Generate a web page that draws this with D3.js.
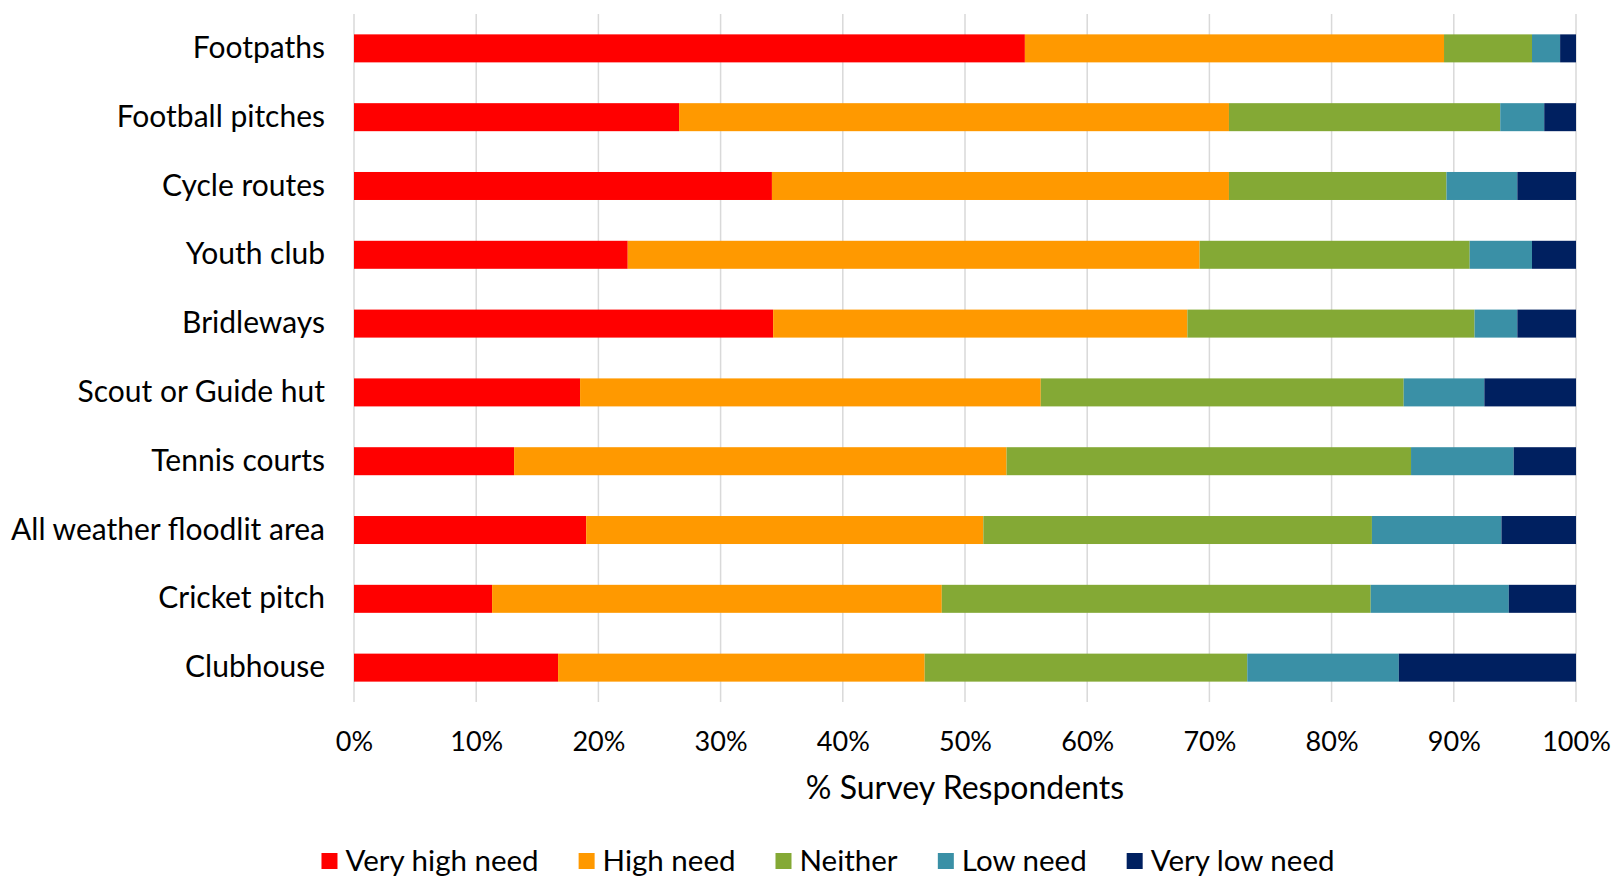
<!DOCTYPE html>
<html>
<head>
<meta charset="utf-8">
<script src="https://cdn.jsdelivr.net/npm/d3@7"></script>
<style>
  body { margin: 0; background: #fff; }
  text { font-family: Lato, "Open Sans", sans-serif; fill: #000; }
</style>
</head>
<body>
<div id="chart"></div>
<script>
// categories top to bottom
var categories = ["Footpaths", "Football pitches", "Cycle routes", "Youth club", "Bridleways",
    "Scout or Guide hut", "Tennis courts", "All weather floodlit area", "Cricket pitch", "Clubhouse"];

// series (percent of respondents)
var seriesNames = ["Very high need", "High need", "Neither", "Low need", "Very low need"];
var veryHigh = [54.9, 26.6, 34.2, 22.4, 34.3, 18.5, 13.1, 19.0, 11.3, 16.7];
var high     = [34.3, 45.0, 37.4, 46.8, 33.9, 37.7, 40.3, 32.5, 36.8, 30.0];
var neither  = [7.2, 22.2, 17.8, 22.1, 23.5, 29.7, 33.1, 31.8, 35.1, 26.4];
var low      = [2.3, 3.6, 5.8, 5.1, 3.5, 6.6, 8.4, 10.6, 11.3, 12.4];
var veryLow  = [1.3, 2.6, 4.8, 3.6, 4.8, 7.5, 5.1, 6.1, 5.5, 14.5];

var tickValues = [0, 10, 20, 30, 40, 50, 60, 70, 80, 90, 100];
var colors = ["#ff0000", "#ff9900", "#84a935", "#3a90a6", "#002060"];

var W = 1616, H = 879;
var margin = { top: 14, right: 40, bottom: 177, left: 354 };
var w = W - margin.left - margin.right,
    h = H - margin.top - margin.bottom;

var svg = d3.select("#chart").append("svg")
    .attr("width", W)
    .attr("height", H);

var g = svg.append("g")
    .attr("transform", "translate(" + margin.left + "," + margin.top + ")");

// build rows for the stack
var rows = categories.map(function (c, i) {
    return { cat: c, s0: veryHigh[i], s1: high[i], s2: neither[i], s3: low[i], s4: veryLow[i] };
});
var stack = d3.stack().keys(["s0", "s1", "s2", "s3", "s4"]);
var stacked = stack(rows);

var xScale = d3.scaleLinear().domain([0, 100]).range([0, w]);
var yScale = d3.scaleBand().domain(categories).range([0, h]).paddingInner(0.593).paddingOuter(0.296);

// gridlines
g.append("g")
    .selectAll("line")
    .data(tickValues).enter()
    .append("line")
    .attr("x1", function (d) { return xScale(d); })
    .attr("x2", function (d) { return xScale(d); })
    .attr("y1", 0)
    .attr("y2", h)
    .attr("stroke", "#d9d9d9")
    .attr("stroke-width", 1.5);

// bars
g.selectAll(".layer")
    .data(stacked).enter()
    .append("g")
    .attr("class", "layer")
    .attr("fill", function (d, i) { return colors[i]; })
    .selectAll("rect")
    .data(function (d) { return d; }).enter()
    .append("rect")
    .attr("x", function (d) { return xScale(d[0]); })
    .attr("width", function (d) { return xScale(d[1]) - xScale(d[0]); })
    .attr("y", function (d) { return yScale(d.data.cat); })
    .attr("height", yScale.bandwidth());

// x axis labels
var xAxis = g.append("g")
    .attr("transform", "translate(0," + h + ")")
    .call(d3.axisBottom(xScale).tickValues(tickValues).tickSize(0).tickPadding(30)
        .tickFormat(function (d) { return d + "%"; }));
xAxis.select(".domain").remove();
xAxis.selectAll("text")
    .style("font-family", "Lato, sans-serif")
    .style("font-size", "27px")
    .attr("fill", "#000");

// y axis labels
var yAxis = g.append("g")
    .call(d3.axisLeft(yScale).tickSize(0).tickPadding(29));
yAxis.select(".domain").remove();
yAxis.selectAll("text")
    .style("font-family", "Lato, sans-serif")
    .style("font-size", "30px")
    .attr("fill", "#000");

// axis title
svg.append("text")
    .attr("x", margin.left + w / 2)
    .attr("y", 799)
    .attr("text-anchor", "middle")
    .style("font-size", "32px")
    .text("% Survey Respondents");

// legend
var legend = svg.append("g").attr("transform", "translate(0,861)");
var items = legend.selectAll(".item")
    .data(seriesNames).enter()
    .append("g")
    .attr("class", "item");
items.append("rect")
    .attr("x", 0).attr("y", -8)
    .attr("width", 16).attr("height", 16)
    .attr("fill", function (d, i) { return colors[i]; });
items.append("text")
    .attr("x", 24)
    .attr("dy", "0.35em")
    .style("font-size", "29.5px")
    .text(function (d) { return d; });

// lay out legend items side by side
var widths = [];
items.each(function () { widths.push(this.getBBox().width); });
var gap = 40;
var total = d3.sum(widths) + gap * (widths.length - 1);
var xPos = 828 - total / 2;
items.attr("transform", function (d, i) {
    var x = xPos;
    xPos += widths[i] + gap;
    return "translate(" + x + ",0)";
});
</script>
</body>
</html>
